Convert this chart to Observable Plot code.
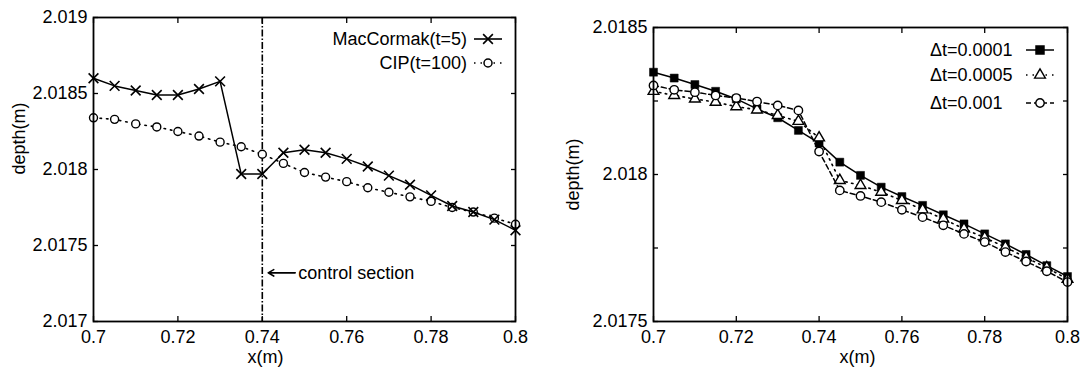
<!DOCTYPE html>
<html><head><meta charset="utf-8">
<script src="https://cdn.jsdelivr.net/npm/d3@7"></script>
<script src="https://cdn.jsdelivr.net/npm/@observablehq/plot@0.6"></script>
<style>
html,body{margin:0;padding:0;background:#fff;}
#wrap{position:relative;width:1087px;height:368px;overflow:hidden;}
#left{position:absolute;left:0;top:0;}
#right{position:absolute;left:540px;top:0;}
svg text{fill:#000;}
</style></head><body><div id="wrap"><div id="left"></div><div id="right"></div></div>
<script>
// ---- data ----
const xs = [0.7,0.705,0.71,0.715,0.72,0.725,0.73,0.735,0.74,0.745,0.75,0.755,0.76,0.765,0.77,0.775,0.78,0.785,0.79,0.795,0.8];
const macCormak = [2.01860,2.01855,2.01852,2.01849,2.01849,2.01853,2.01858,2.01797,2.01797,2.01811,2.01813,2.01811,2.01807,2.01802,2.01796,2.01790,2.01783,2.01776,2.01772,2.01767,2.01760];
const cip = [2.01834,2.01833,2.01830,2.01828,2.01825,2.01822,2.01818,2.01815,2.01810,2.01804,2.01798,2.01795,2.01792,2.01788,2.01785,2.01782,2.01779,2.01775,2.01772,2.01768,2.01764];
const dt0001 = [2.018348,2.018328,2.018306,2.018283,2.018257,2.018223,2.018193,2.018150,2.018107,2.018042,2.017997,2.017957,2.017925,2.017895,2.017863,2.017832,2.017798,2.017764,2.017728,2.017690,2.017653];
const dt0005 = [2.018283,2.018269,2.018257,2.018246,2.018231,2.018220,2.018201,2.018181,2.018125,2.017980,2.017963,2.017940,2.017912,2.017880,2.017849,2.017815,2.017785,2.017753,2.017717,2.017683,2.017644];
const dt001 = [2.018303,2.018288,2.018280,2.018269,2.018260,2.018248,2.018235,2.018218,2.018078,2.017946,2.017927,2.017906,2.017880,2.017855,2.017827,2.017798,2.017770,2.017736,2.017704,2.017671,2.017634];

const xTicks = [0.7,0.72,0.74,0.76,0.78,0.8];
const xTickLabels = ["0.7","0.72","0.74","0.76","0.78","0.8"];
const leftYTicks = [2.017,2.0175,2.018,2.0185,2.019];
const leftYTickLabels = ["2.017","2.0175","2.018","2.0185","2.019"];
const rightYTicks = [2.0175,2.018,2.0185];
const rightYTickLabels = ["2.0175","2.018","2.0185"];
const rightYMinorTicks = [2.01775,2.01825];
const leftLegend = ["MacCormak(t=5)","CIP(t=100)"];
const rightLegend = ["\u0394t=0.0001","\u0394t=0.0005","\u0394t=0.001"];
const xLabel = "x(m)";
const yLabel = "depth(m)";
const controlX = 0.74;
const controlNote = {label:"control section", x:0.7485, xFrom:0.7478, xTo:0.7414, y:2.01732};

const FONT = "'Liberation Sans', Arial, Helvetica, sans-serif";
const rows = (vals) => xs.map((x,i)=>({x, y: vals[i]}));
const fmtX = new Map(xTicks.map((d,i)=>[d,xTickLabels[i]]));

function axes(yTicks, yFmt, yMinor) {
  const allY = yMinor ? yTicks.concat(yMinor) : yTicks;
  return [
    Plot.axisX({ticks:xTicks, anchor:"bottom", tickSize:0, tickPadding:9, tickFormat:d=>fmtX.get(d), label:null, fontSize:18}),
    Plot.axisX({ticks:xTicks, anchor:"bottom", tickSize:-5, tickFormat:()=>"", label:null, strokeWidth:1.3}),
    Plot.axisX({ticks:xTicks, anchor:"top", tickSize:-5, tickFormat:()=>"", label:null, strokeWidth:1.3}),
    Plot.axisY({ticks:yTicks, anchor:"left", tickSize:0, tickPadding:6, tickFormat:d=>yFmt.get(d), label:null, fontSize:18}),
    Plot.axisY({ticks:allY, anchor:"left", tickSize:-5, tickFormat:()=>"", label:null, strokeWidth:1.3}),
    Plot.axisY({ticks:allY, anchor:"right", tickSize:-5, tickFormat:()=>"", label:null, strokeWidth:1.3})
  ];
}

function addLegend(plot, items, opts) {
  const svg = d3.select(plot.tagName.toLowerCase()==="svg" ? plot : plot.querySelector("svg"));
  const sx = plot.scale("x"), sy = plot.scale("y");
  const right = sx.range[1], top = Math.min(...sy.range);
  const g = svg.append("g").attr("font-family", FONT).attr("font-size", 18);
  items.forEach((it, i) => {
    const cy = top + opts.rowY[i];
    const t = g.append("text").attr("y", cy).attr("dy", "0.35em").attr("fill","#000").text(it.label);
    t.attr("x", right + opts.textX).attr("text-anchor", opts.anchor);
    const cx = right + opts.symX;
    g.append("line").attr("x1", cx - opts.half).attr("x2", cx + opts.half).attr("y1", cy).attr("y2", cy)
      .attr("stroke","#000").attr("stroke-width", it.sw).attr("stroke-dasharray", it.dash || null);
    const sym = d3.symbol().type(it.symbol).size(Math.PI * it.r * it.r);
    g.append("path").attr("d", sym()).attr("transform", `translate(${cx},${cy})`)
      .attr("fill", it.fill).attr("stroke", "#000").attr("stroke-width", it.sw);
  });
}

// ---- left chart ----
const left = Plot.plot({
  width:540, height:368,
  marginLeft:93, marginRight:25, marginTop:17, marginBottom:47,
  style:{fontFamily:FONT, fontSize:"18px", color:"#000", background:"#fff", overflow:"visible"},
  x:{domain:[0.7,0.8]},
  y:{domain:[2.017,2.019]},
  marks:[
    Plot.ruleX([controlX], {stroke:"#000", strokeWidth:1.6, strokeDasharray:"7,2,1.5,2"}),
    Plot.line(rows(cip), {x:"x", y:"y", stroke:"#000", strokeWidth:1.6, strokeDasharray:"1.5,5", strokeLinecap:"round"}),
    Plot.dot(rows(cip), {x:"x", y:"y", r:4, stroke:"#000", fill:"white", strokeWidth:1.4}),
    Plot.line(rows(macCormak), {x:"x", y:"y", stroke:"#000", strokeWidth:1.5}),
    Plot.dot(rows(macCormak), {x:"x", y:"y", symbol:"times", r:4.5, stroke:"#000", strokeWidth:1.6}),
    Plot.arrow([controlNote], {x1:"xFrom", x2:"xTo", y1:"y", y2:"y", stroke:"#000", strokeWidth:1.6, headLength:6}),
    Plot.text([controlNote], {x:"x", y:"y", text:"label", textAnchor:"start", fontSize:18}),
    Plot.frame({stroke:"#000", strokeWidth:1.8}),
    ...axes(leftYTicks, new Map(leftYTicks.map((d,i)=>[d,leftYTickLabels[i]]))),
    Plot.text([xLabel], {frameAnchor:"bottom", dx:-39, dy:36, lineAnchor:"middle", textAnchor:"middle", fontSize:18}),
    Plot.text([yLabel], {frameAnchor:"left", dx:-74, dy:-31, rotate:-90, lineAnchor:"middle", textAnchor:"middle", fontSize:18})
  ]
});
addLegend(left, [
  {label:leftLegend[0], symbol:d3.symbolTimes, r:4.5, fill:"none", sw:1.6},
  {label:leftLegend[1], symbol:d3.symbolCircle, r:4, fill:"white", sw:1.5, dash:"1.5,5"}
], {anchor:"end", textX:-48, symX:-27, half:14, rowY:[22,46]});
document.getElementById("left").appendChild(left);

// ---- right chart ----
const right = Plot.plot({
  width:547, height:368,
  marginLeft:113, marginRight:20, marginTop:27, marginBottom:47,
  style:{fontFamily:FONT, fontSize:"18px", color:"#000", background:"#fff", overflow:"visible"},
  x:{domain:[0.7,0.8]},
  y:{domain:[2.0175,2.0185]},
  marks:[
    Plot.line(rows(dt0001), {x:"x", y:"y", stroke:"#000", strokeWidth:1.5}),
    Plot.dot(rows(dt0001), {x:"x", y:"y", symbol:"square", r:4.5, fill:"#000", stroke:"#000", strokeWidth:0.5}),
    Plot.line(rows(dt0005), {x:"x", y:"y", stroke:"#000", strokeWidth:1.6, strokeDasharray:"1.5,4.5", strokeLinecap:"round"}),
    Plot.dot(rows(dt0005), {x:"x", y:"y", symbol:"triangle", r:4, fill:"white", stroke:"#000", strokeWidth:1.4}),
    Plot.line(rows(dt001), {x:"x", y:"y", stroke:"#000", strokeWidth:1.5, strokeDasharray:"5,3"}),
    Plot.dot(rows(dt001), {x:"x", y:"y", r:4.2, fill:"white", stroke:"#000", strokeWidth:1.4}),
    Plot.frame({stroke:"#000", strokeWidth:1.8}),
    ...axes(rightYTicks, new Map(rightYTicks.map((d,i)=>[d,rightYTickLabels[i]])), rightYMinorTicks),
    Plot.text([xLabel], {frameAnchor:"bottom", dx:-3, dy:36, lineAnchor:"middle", textAnchor:"middle", fontSize:18}),
    Plot.text([yLabel], {frameAnchor:"left", dx:-80, dy:0, rotate:-90, lineAnchor:"middle", textAnchor:"middle", fontSize:18})
  ]
});
addLegend(right, [
  {label:rightLegend[0], symbol:d3.symbolSquare, r:4.5, fill:"#000", sw:1.5},
  {label:rightLegend[1], symbol:d3.symbolTriangle, r:4, fill:"white", sw:1.4, dash:"1.5,5"},
  {label:rightLegend[2], symbol:d3.symbolCircle, r:4.2, fill:"white", sw:1.4, dash:"5,3"}
], {anchor:"start", textX:-137, symX:-27, half:14, rowY:[23,48,76]});
document.getElementById("right").appendChild(right);
</script>
</body></html>
